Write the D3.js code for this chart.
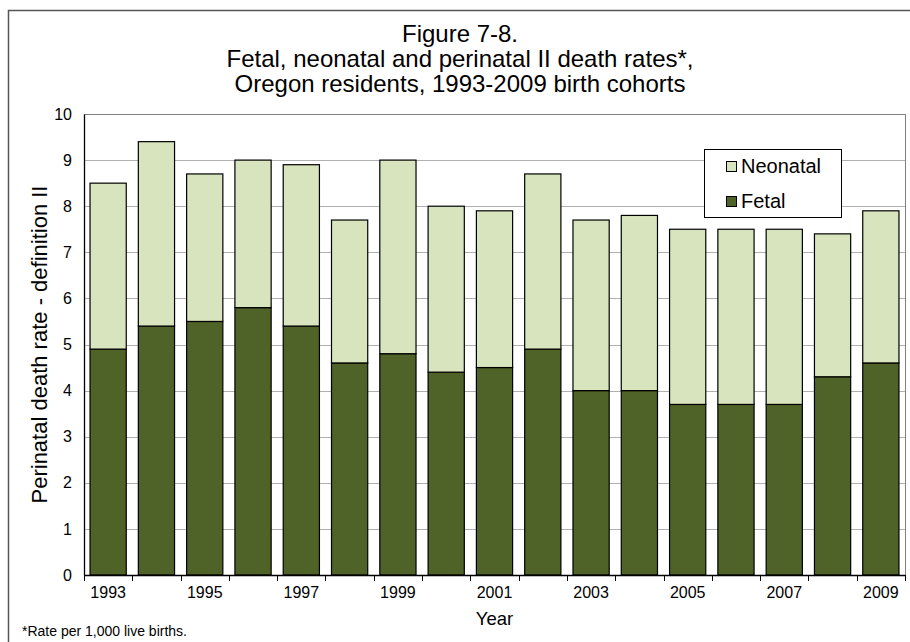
<!DOCTYPE html>
<html>
<head>
<meta charset="utf-8">
<script src="https://cdn.jsdelivr.net/npm/d3@7"></script>
<style>
  body { margin: 0; background: #fff; }
  svg { font-family: "Liberation Sans", Arial, sans-serif; }
</style>
</head>
<body>
<div id="chart-area"></div>
<script>
// data
const years = ["1993","1994","1995","1996","1997","1998","1999","2000","2001",
               "2002","2003","2004","2005","2006","2007","2008","2009"];
const fetal    = [4.9, 5.4, 5.5, 5.8, 5.4, 4.6, 4.8, 4.4, 4.5, 4.9, 4.0, 4.0, 3.7, 3.7, 3.7, 4.3, 4.6];
const neonatal = [3.6, 4.0, 3.2, 3.2, 3.5, 3.1, 4.2, 3.6, 3.4, 3.8, 3.7, 3.8, 3.8, 3.8, 3.8, 3.1, 3.3];
const yTicks = [0,1,2,3,4,5,6,7,8,9,10];
const xTickLabels = ["1993","1995","1997","1999","2001","2003","2005","2007","2009"];
const seriesNames = ["Neonatal", "Fetal"];

const svgWidth = 910, svgHeight = 642;
const margin = {left: 84, top: 114, right: 5, bottom: 67};
const chartWidth = svgWidth - margin.left - margin.right,
      chartHeight = svgHeight - margin.top - margin.bottom;

const colors = {Fetal: "#4f6228", Neonatal: "#d7e4bd"};

var svg = d3.select("#chart-area")
    .append("svg")
    .attr("width", svgWidth)
    .attr("height", svgHeight);

// outer frame
svg.append("rect")
    .attr("x", 8.5).attr("y", 10.5)
    .attr("width", 910).attr("height", 640)
    .attr("fill", "none")
    .attr("stroke", "#555")
    .attr("stroke-width", 1.5);

// title
const titleLines = ["Figure 7-8.",
    "Fetal, neonatal and perinatal II death rates*,",
    "Oregon residents, 1993-2009 birth cohorts"];
svg.append("g").selectAll("text")
    .data(titleLines)
    .enter().append("text")
    .attr("x", 460)
    .attr("y", function(d, i){ return 42 + i*25; })
    .attr("text-anchor", "middle")
    .attr("font-size", "24px")
    .attr("fill", "#000")
    .text(function(d){ return d; });

var g = svg.append("g")
    .attr("transform", "translate(" + margin.left + "," + margin.top + ")");

// scales
var xScale = d3.scaleBand()
    .domain(years)
    .range([0, chartWidth])
    .paddingInner(0.25)
    .paddingOuter(0.125);
var yScale = d3.scaleLinear()
    .domain([0, 10])
    .range([chartHeight, 0]);

// gridlines
g.append("g").selectAll("line")
    .data(yTicks.slice(1))
    .enter().append("line")
    .attr("x1", 0).attr("x2", chartWidth)
    .attr("y1", function(d){ return Math.round(yScale(d)) + 0.5; })
    .attr("y2", function(d){ return Math.round(yScale(d)) + 0.5; })
    .attr("stroke", "#b0b0b0")
    .attr("stroke-width", 1);

// plot area border
g.append("rect")
    .attr("x", 0.5).attr("y", 0.5)
    .attr("width", chartWidth).attr("height", chartHeight)
    .attr("fill", "none")
    .attr("stroke", "#808080");

// stacked bars
var rows = years.map(function(y, i){
    return {year: y, Fetal: fetal[i], Neonatal: neonatal[i]};
});
var stack = d3.stack().keys(["Fetal", "Neonatal"]);
var layers = stack(rows);

g.append("g").selectAll("g")
    .data(layers)
    .enter().append("g")
    .attr("fill", function(d){ return colors[d.key]; })
    .selectAll("rect")
    .data(function(d){ return d; })
    .enter().append("rect")
    .attr("x", function(d){ return xScale(d.data.year); })
    .attr("y", function(d){ return yScale(d[1]); })
    .attr("width", xScale.bandwidth())
    .attr("height", function(d){ return yScale(d[0]) - yScale(d[1]); })
    .attr("stroke", "#000")
    .attr("stroke-width", 1.2);

// y axis (no tick marks, labels only)
var yAxisCall = d3.axisLeft(yScale)
    .tickValues(yTicks)
    .tickSize(0)
    .tickPadding(12)
    .tickFormat(d3.format("d"));
var yAxis = g.append("g").call(yAxisCall);
yAxis.select(".domain").attr("stroke", "#000").attr("stroke-width", 1.3);
yAxis.selectAll("text")
    .attr("font-size", "16px")
    .attr("font-family", "Liberation Sans, Arial, sans-serif")
    .attr("fill", "#000");

// x axis: ticks at category boundaries, labels every other year
var step = xScale.step();
var xAxis = g.append("g")
    .attr("transform", "translate(0," + chartHeight + ")");
xAxis.append("line")
    .attr("x1", 0).attr("x2", chartWidth)
    .attr("y1", 0.5).attr("y2", 0.5)
    .attr("stroke", "#000")
    .attr("stroke-width", 1.5);
xAxis.selectAll(".xtick")
    .data(d3.range(years.length + 1))
    .enter().append("line")
    .attr("class", "xtick")
    .attr("x1", function(i){ return Math.round(i*step) + 0.5; })
    .attr("x2", function(i){ return Math.round(i*step) + 0.5; })
    .attr("y1", 0).attr("y2", 6)
    .attr("stroke", "#000");
xAxis.selectAll(".xlabel")
    .data(xTickLabels)
    .enter().append("text")
    .attr("class", "xlabel")
    .attr("x", function(d){ return xScale(d) + xScale.bandwidth()/2; })
    .attr("y", 23)
    .attr("text-anchor", "middle")
    .attr("font-size", "16px")
    .attr("fill", "#000")
    .text(function(d){ return d; });

// axis titles
g.append("text")
    .attr("x", chartWidth/2)
    .attr("y", chartHeight + 50)
    .attr("text-anchor", "middle")
    .attr("font-size", "18.5px")
    .text("Year");
g.append("text")
    .attr("transform", "rotate(-90)")
    .attr("x", -chartHeight/2)
    .attr("y", -margin.left + 47)
    .attr("text-anchor", "middle")
    .attr("font-size", "22px")
    .text("Perinatal death rate - definition II");

// footnote
svg.append("text")
    .attr("x", 22)
    .attr("y", 636)
    .attr("font-size", "14px")
    .text("*Rate per 1,000 live births.");

// legend
var legend = svg.append("g")
    .attr("transform", "translate(704,149)");
legend.append("rect")
    .attr("x", 0.5).attr("y", 0.5)
    .attr("width", 137).attr("height", 68)
    .attr("fill", "#fff")
    .attr("stroke", "#000");
seriesNames.forEach(function(name, i){
    var row = legend.append("g")
        .attr("transform", "translate(22," + (12 + i*35) + ")");
    row.append("rect")
        .attr("x", 0.5).attr("y", 0.5)
        .attr("width", 10).attr("height", 10)
        .attr("fill", colors[name])
        .attr("stroke", "#000");
    row.append("text")
        .attr("x", 15)
        .attr("y", 12)
        .attr("font-size", "20px")
        .text(name);
});
</script>
</body>
</html>
